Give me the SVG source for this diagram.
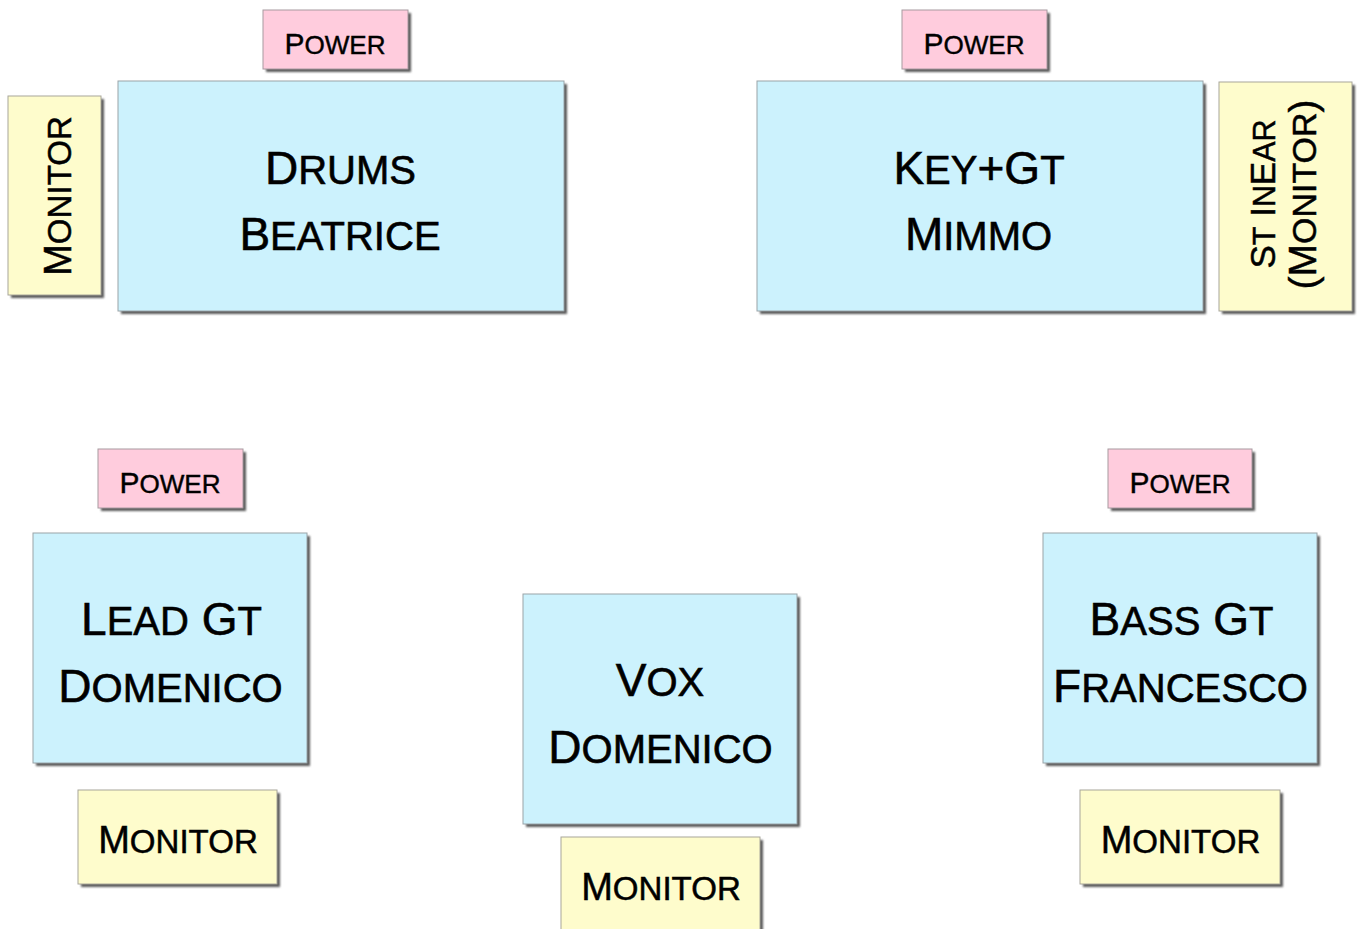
<svg xmlns="http://www.w3.org/2000/svg" width="1361" height="929" viewBox="0 0 1361 929">
<style>
  .sh { fill: #5a5a5a; filter: url(#blur); }
  .blue { fill: #ccf2fd; stroke: #9aa4a8; stroke-width: 1; }
  .pink { fill: #ffccdd; stroke: #a89aa0; stroke-width: 1; }
  .yel { fill: #fefccc; stroke: #a8a69a; stroke-width: 1; }
  text { font-family: "Liberation Sans", Arial, sans-serif; fill: #000; stroke: #000; stroke-width: 0.6; text-anchor: middle; }
  .big { font-size: 46px; }
  .pw { font-size: 30px; stroke-width: 0.4; }
  .mo { font-size: 38px; stroke-width: 0.5; }
  .st1 { font-size: 35px; stroke-width: 0.5; }
  .st2 { font-size: 39px; stroke-width: 0.5; }
  .sc { text-transform: uppercase; font-size: 0.87em; }
</style>
<defs>
  <filter id="blur" x="-5%" y="-5%" width="110%" height="110%">
    <feGaussianBlur stdDeviation="0.8"/>
  </filter>
</defs>
<g id="connectors"></g>

<g id="power-drums">
  <rect class="sh" x="266" y="13" width="145" height="59"/>
  <rect class="pink" x="263" y="10" width="145" height="59"/>
  <text class="pw" x="335" y="54">P<tspan class="sc">ower</tspan></text>
</g>
<g id="drums">
  <rect class="sh" x="121" y="84" width="446" height="230"/>
  <rect class="blue" x="118" y="81" width="446" height="230"/>
  <text class="big" x="340.5" y="184">D<tspan class="sc">rums</tspan></text>
  <text class="big" x="340" y="250">B<tspan class="sc">eatrice</tspan></text>
</g>
<g id="monitor-drums">
  <rect class="sh" x="11" y="99" width="93" height="199"/>
  <rect class="yel" x="8" y="96" width="93" height="199"/>
  <text class="mo" transform="translate(71,196) rotate(-90)" x="0" y="0">M<tspan class="sc">onitor</tspan></text>
</g>

<g id="power-keys">
  <rect class="sh" x="905" y="13" width="145" height="59"/>
  <rect class="pink" x="902" y="10" width="145" height="59"/>
  <text class="pw" x="974" y="54">P<tspan class="sc">ower</tspan></text>
</g>
<g id="keys">
  <rect class="sh" x="760" y="84" width="446" height="230"/>
  <rect class="blue" x="757" y="81" width="446" height="230"/>
  <text class="big" x="979" y="184">K<tspan class="sc">ey</tspan>+G<tspan class="sc">t</tspan></text>
  <text class="big" x="978.5" y="250">M<tspan class="sc">immo</tspan></text>
</g>
<g id="inear">
  <rect class="sh" x="1222" y="85" width="133" height="229"/>
  <rect class="yel" x="1219" y="82" width="133" height="229"/>
  <text class="st1" transform="translate(1275,194) rotate(-90)" x="0" y="0">S<tspan class="sc">t</tspan> I<tspan class="sc">n</tspan>E<tspan class="sc">ar</tspan></text>
  <text class="st2" transform="translate(1316,194.5) rotate(-90)" x="0" y="0">(M<tspan class="sc">onitor</tspan>)</text>
</g>

<g id="power-lead">
  <rect class="sh" x="101" y="452" width="145" height="59"/>
  <rect class="pink" x="98" y="449" width="145" height="59"/>
  <text class="pw" x="170" y="493">P<tspan class="sc">ower</tspan></text>
</g>
<g id="lead">
  <rect class="sh" x="36" y="536" width="274" height="230"/>
  <rect class="blue" x="33" y="533" width="274" height="230"/>
  <text class="big" x="171.5" y="635">L<tspan class="sc">ead</tspan> G<tspan class="sc">t</tspan></text>
  <text class="big" x="170.5" y="702">D<tspan class="sc">omenico</tspan></text>
</g>
<g id="monitor-lead">
  <rect class="sh" x="81" y="793" width="199" height="94"/>
  <rect class="yel" x="78" y="790" width="199" height="94"/>
  <text class="mo" x="178" y="853">M<tspan class="sc">onitor</tspan></text>
</g>

<g id="vox">
  <rect class="sh" x="526" y="597" width="274" height="230"/>
  <rect class="blue" x="523" y="594" width="274" height="230"/>
  <text class="big" x="660" y="696">V<tspan class="sc">ox</tspan></text>
  <text class="big" x="660.5" y="763">D<tspan class="sc">omenico</tspan></text>
</g>
<g id="monitor-vox">
  <rect class="sh" x="564" y="840" width="199" height="100"/>
  <rect class="yel" x="561" y="837" width="199" height="100"/>
  <text class="mo" x="661" y="900">M<tspan class="sc">onitor</tspan></text>
</g>

<g id="power-bass">
  <rect class="sh" x="1111" y="452" width="144" height="59"/>
  <rect class="pink" x="1108" y="449" width="144" height="59"/>
  <text class="pw" x="1180" y="493">P<tspan class="sc">ower</tspan></text>
</g>
<g id="bass">
  <rect class="sh" x="1046" y="536" width="274" height="230"/>
  <rect class="blue" x="1043" y="533" width="274" height="230"/>
  <text class="big" x="1181.5" y="635">B<tspan class="sc">ass</tspan> G<tspan class="sc">t</tspan></text>
  <text class="big" x="1180.5" y="702">F<tspan class="sc">rancesco</tspan></text>
</g>
<g id="monitor-bass">
  <rect class="sh" x="1083" y="793" width="200" height="94"/>
  <rect class="yel" x="1080" y="790" width="200" height="94"/>
  <text class="mo" x="1180.5" y="853">M<tspan class="sc">onitor</tspan></text>
</g>
</svg>
